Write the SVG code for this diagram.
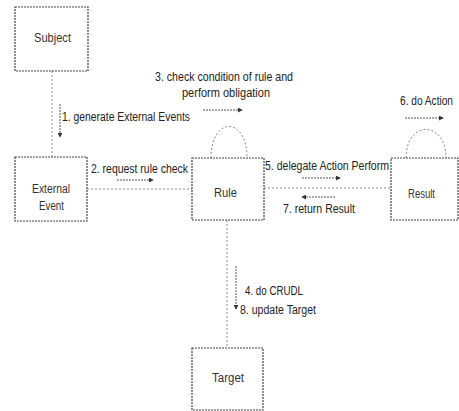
<svg xmlns="http://www.w3.org/2000/svg" width="459" height="411" viewBox="0 0 459 411">
  <style>
    .box { fill: #fff; stroke: #444; stroke-width: 1.2; stroke-dasharray: 2 1; }
    .lbl { font-family: "Liberation Sans", "DejaVu Sans", sans-serif; font-size: 12px; fill: #222; }
    .name { font-family: "Liberation Sans", "DejaVu Sans", sans-serif; font-size: 12px; fill: #333; }
    .link { fill: none; stroke: #888; stroke-width: 1; stroke-dasharray: 2 2; }
    .msg { fill: none; stroke: #555; stroke-width: 1; stroke-dasharray: 2 1; }
  </style>
  <defs>
    <marker id="head" viewBox="0 0 6 6" refX="5" refY="3" markerWidth="5" markerHeight="5" orient="auto">
      <path d="M0,0 L6,3 L0,6 z" fill="#333"/>
    </marker>
  </defs>
  <rect width="459" height="411" fill="#fff"/>

  <!-- associations and message arrows -->
  <g id="connectors">
    <line class="link" x1="52" y1="71" x2="52" y2="157"/>
    <line class="msg" x1="60" y1="104" x2="60" y2="137" marker-end="url(#head)"/>

    <line class="link" x1="87" y1="189" x2="192" y2="189"/>
    <line class="msg" x1="117" y1="180" x2="153" y2="180" marker-end="url(#head)"/>

    <path class="link" d="M211,158 C211,116 247,116 247,158"/>
    <line class="msg" x1="203" y1="110" x2="242" y2="110" marker-end="url(#head)"/>

    <line class="link" x1="264" y1="188" x2="391" y2="188"/>
    <line class="msg" x1="302" y1="178" x2="340" y2="178" marker-end="url(#head)"/>
    <line class="msg" x1="335" y1="197" x2="302" y2="197" marker-end="url(#head)"/>

    <path class="link" d="M406,158 C406,120 446,120 446,158"/>
    <line class="msg" x1="405" y1="118" x2="443" y2="118" marker-end="url(#head)"/>

    <line class="link" x1="227" y1="220" x2="227" y2="348"/>
    <line class="msg" x1="236" y1="266" x2="236" y2="309" marker-end="url(#head)"/>
  </g>

  <g id="subject">
    <rect class="box" x="15" y="7" width="73" height="64"/>
    <text class="name" x="34" y="42" textLength="37" lengthAdjust="spacingAndGlyphs">Subject</text>
  </g>
  <g id="external-event">
    <rect class="box" x="15" y="157" width="72" height="64"/>
    <text class="name" x="32" y="193" textLength="38" lengthAdjust="spacingAndGlyphs">External</text>
    <text class="name" x="39" y="210" textLength="25" lengthAdjust="spacingAndGlyphs">Event</text>
  </g>
  <g id="rule">
    <rect class="box" x="192" y="158" width="72" height="62"/>
    <text class="name" x="214" y="197" textLength="23" lengthAdjust="spacingAndGlyphs">Rule</text>
  </g>
  <g id="result">
    <rect class="box" x="391" y="158" width="67" height="62"/>
    <text class="name" x="408" y="198" textLength="27" lengthAdjust="spacingAndGlyphs">Result</text>
  </g>
  <g id="target">
    <rect class="box" x="192" y="348" width="71" height="62"/>
    <text class="name" x="212" y="382" textLength="32" lengthAdjust="spacingAndGlyphs">Target</text>
  </g>

  <!-- message labels -->
  <g id="labels">
    <text class="lbl" x="62" y="121" textLength="128" lengthAdjust="spacingAndGlyphs">1. generate External Events</text>
    <text class="lbl" x="91" y="173" textLength="97" lengthAdjust="spacingAndGlyphs">2. request rule check</text>
    <text class="lbl" x="155" y="81" textLength="138" lengthAdjust="spacingAndGlyphs">3. check condition of rule and</text>
    <text class="lbl" x="182" y="97" textLength="88" lengthAdjust="spacingAndGlyphs">perform obligation</text>
    <text class="lbl" x="265" y="170" textLength="124" lengthAdjust="spacingAndGlyphs">5. delegate Action Perform</text>
    <text class="lbl" x="283" y="213" textLength="72" lengthAdjust="spacingAndGlyphs">7. return Result</text>
    <text class="lbl" x="400" y="105" font-size="10.5" textLength="53" lengthAdjust="spacingAndGlyphs">6. do Action</text>
    <text class="lbl" x="245" y="295" textLength="58" lengthAdjust="spacingAndGlyphs">4. do CRUDL</text>
    <text class="lbl" x="240" y="314" textLength="76" lengthAdjust="spacingAndGlyphs">8. update Target</text>
  </g>
</svg>
